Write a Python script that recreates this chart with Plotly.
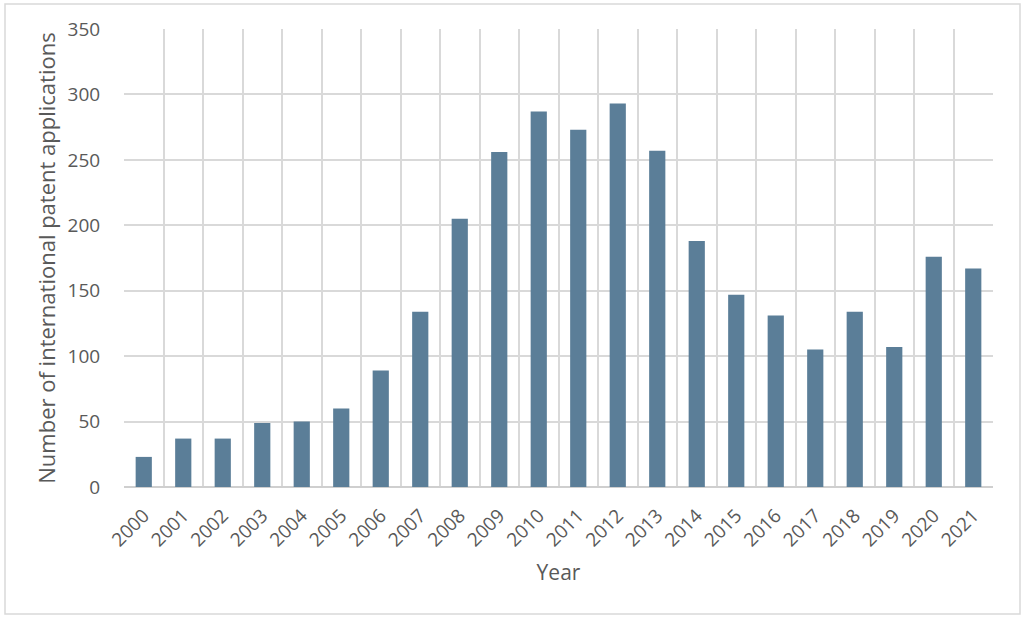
import plotly.graph_objects as go

years = [str(y) for y in range(2000, 2022)]
applications = [23, 37, 37, 49, 50, 60, 89, 134, 205, 256, 287, 273, 293, 257,
                188, 147, 131, 105, 134, 107, 176, 167]
y_ticks = [0, 50, 100, 150, 200, 250, 300, 350]

x_pos = list(range(len(years)))
grid = "#d9d9d9"
text_col = "#595959"
font = "Open Sans"

fig = go.Figure(go.Bar(
    x=x_pos, y=applications, width=0.41,
    marker=dict(color="#5b7e98", line=dict(width=0)),
    hoverinfo="y",
))

L, R, T, B = 124, 31, 29, 131
W, H = 1024, 618
pw, ph = W - L - R, H - T - B

fig.update_layout(
    width=W, height=H,
    margin=dict(l=L, r=R, t=T, b=B, pad=0),
    paper_bgcolor="white", plot_bgcolor="white",
    showlegend=False,
    font=dict(family=font, color=text_col),
    xaxis=dict(
        range=[-0.5, len(years) - 0.5],
        tickmode="array", tickvals=x_pos, ticktext=years,
        tickangle=-45, tickfont=dict(size=19, color=text_col),
        showgrid=False, zeroline=False,
        minor=dict(tickmode="linear", tick0=-0.5, dtick=1, showgrid=True,
                   gridcolor=grid, gridwidth=1.5, ticks=""),
        title=dict(text="Year", font=dict(size=21, color=text_col), standoff=14),
        ticks="outside", ticklen=9, tickcolor="rgba(0,0,0,0)", showline=False,
    ),
    yaxis=dict(
        range=[0, 350], tickmode="array", tickvals=y_ticks,
        tickfont=dict(size=19, color=text_col),
        showgrid=True, gridcolor=grid, gridwidth=1.5,
        zeroline=True, zerolinecolor="#cfcfcf", zerolinewidth=2,
        ticks="outside", ticklen=19, tickcolor="rgba(0,0,0,0)",
        title=dict(text="Number of international patent applications",
                   font=dict(size=22, color=text_col), standoff=5),
    ),
    shapes=[dict(
        type="rect", xref="paper", yref="paper",
        x0=(5 - L) / pw, x1=(1020 - L) / pw,
        y0=(H - B - 614) / ph, y1=(H - B - 4) / ph,
        line=dict(color="#d9d9d9", width=1.5), layer="below",
    )],
)

fig.write_html("out.html")
